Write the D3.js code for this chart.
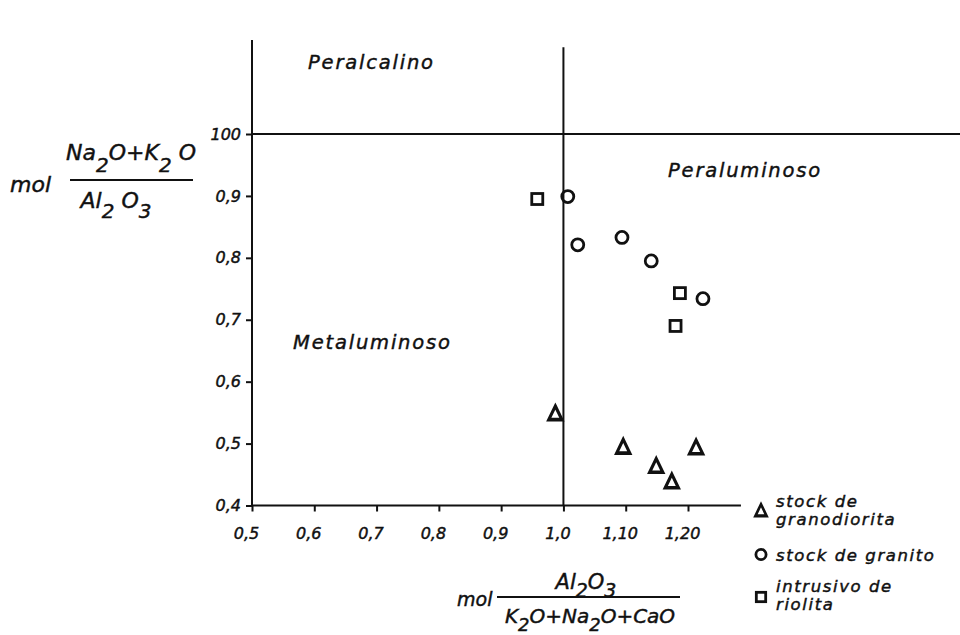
<!DOCTYPE html>
<html>
<head>
<meta charset="utf-8">
<script src="https://cdn.jsdelivr.net/npm/d3@7"></script>
<style>
  html, body { margin: 0; padding: 0; background: #fff; }
  svg text { font-family: "DejaVu Sans", "Liberation Sans", sans-serif; font-style: italic; fill: #111; stroke: #111; stroke-width: 0.45px; }
</style>
</head>
<body>
<svg id="chart" width="960" height="635"></svg>
<script>
// Shand index: A/CNK (x) vs A/NK-inverse (y) for the three intrusive units
const granodiorita = [
  [0.987, 0.546], [1.096, 0.492], [1.149, 0.461], [1.174, 0.436], [1.213, 0.491]
];
const granito = [
  [1.007, 0.899], [1.023, 0.821], [1.094, 0.833], [1.141, 0.795], [1.224, 0.734]
];
const riolita = [
  [0.958, 0.895], [1.187, 0.743], [1.180, 0.690]
];

const xTicks = [0.5, 0.6, 0.7, 0.8, 0.9, 1.0, 1.1, 1.2];
const xTickLabels = ["0,5", "0,6", "0,7", "0,8", "0,9", "1,0", "1,10", "1,20"];
const yTicks = [0.4, 0.5, 0.6, 0.7, 0.8, 0.9, 1.0];
const yTickLabels = ["0,4", "0,5", "0,6", "0,7", "0,8", "0,9", "100"];

const regions = [
  { name: "Peralcalino", x: 0.59, y: 1.105 },
  { name: "Peraluminoso", x: 1.168, y: 0.93 },
  { name: "Metaluminoso", x: 0.566, y: 0.653 }
];

const legendItems = [
  { shape: "triangle", lines: ["stock de", "granodiorita"] },
  { shape: "circle", lines: ["stock de granito"] },
  { shape: "square", lines: ["intrusivo de", "riolita"] }
];

const svg = d3.select("#chart");
const ink = "#111";

const x = d3.scaleLinear().domain([0.5, 1.2]).range([252, 688]);
const y = d3.scaleLinear().domain([0.4, 1.0]).range([505.5, 134]);

// Axes
const xAxis = d3.axisBottom(x)
  .tickValues(xTicks)
  .tickSize(6)
  .tickFormat((d, i) => xTickLabels[i]);
const gx = svg.append("g")
  .attr("transform", `translate(0,${y(0.4)})`)
  .call(xAxis);
gx.select(".domain").remove();
gx.selectAll(".tick line").attr("stroke", ink).attr("stroke-width", 2);
gx.selectAll(".tick text")
  .attr("dy", "1.5em").attr("dx", -6)
  .style("font-size", "16px").style("font-family", "'DejaVu Sans', sans-serif")
  .style("font-style", "italic").attr("fill", ink);
gx.append("line")
  .attr("x1", x(0.5)).attr("x2", x(1.285))
  .attr("y1", 0).attr("y2", 0)
  .attr("stroke", ink).attr("stroke-width", 2);

const yAxis = d3.axisLeft(y)
  .tickValues(yTicks)
  .tickSize(6)
  .tickFormat((d, i) => yTickLabels[i]);
const gy = svg.append("g")
  .attr("transform", `translate(${x(0.5)},0)`)
  .call(yAxis);
gy.select(".domain").remove();
gy.selectAll(".tick line").attr("stroke", ink).attr("stroke-width", 2);
gy.selectAll(".tick text")
  .attr("dx", -2)
  .style("font-size", "16px").style("font-family", "'DejaVu Sans', sans-serif")
  .style("font-style", "italic").attr("fill", ink);
gy.append("line")
  .attr("x1", 0).attr("x2", 0)
  .attr("y1", y(1.152)).attr("y2", y(0.4))
  .attr("stroke", ink).attr("stroke-width", 2);

// Field boundaries at index = 1
svg.append("line")
  .attr("x1", x(0.5)).attr("x2", 960)
  .attr("y1", y(1.0)).attr("y2", y(1.0))
  .attr("stroke", ink).attr("stroke-width", 2);
svg.append("line")
  .attr("x1", x(1.0)).attr("x2", x(1.0))
  .attr("y1", y(1.14)).attr("y2", y(0.4))
  .attr("stroke", ink).attr("stroke-width", 2);

// Field names
svg.selectAll("text.region")
  .data(regions)
  .join("text")
  .attr("class", "region")
  .attr("x", d => x(d.x))
  .attr("y", d => y(d.y))
  .style("font-size", "19.5px")
  .style("letter-spacing", "1.8px")
  .text(d => d.name);

// Markers
const triPath = d3.symbol().type(d3.symbolTriangle).size(75);
function drawShape(g, shape, cx, cy, scale) {
  const s = scale || 1;
  if (shape === "circle") {
    g.append("circle").attr("cx", cx).attr("cy", cy).attr("r", 6 * s)
      .attr("fill", "none").attr("stroke", ink).attr("stroke-width", 2.8);
  } else if (shape === "square") {
    g.append("rect").attr("x", cx - 5.5 * s).attr("y", cy - 5.5 * s)
      .attr("width", 11 * s).attr("height", 11 * s)
      .attr("fill", "none").attr("stroke", ink).attr("stroke-width", 2.8);
  } else {
    g.append("path").attr("d", triPath())
      .attr("transform", `translate(${cx},${cy}) scale(${s},${1.2 * s})`)
      .attr("fill", "none").attr("stroke", ink).attr("stroke-width", 3)
      .attr("stroke-linejoin", "miter");
  }
}

const pts = svg.append("g");
granodiorita.forEach(d => drawShape(pts, "triangle", x(d[0]), y(d[1])));
granito.forEach(d => drawShape(pts, "circle", x(d[0]), y(d[1])));
riolita.forEach(d => drawShape(pts, "square", x(d[0]), y(d[1])));

// Y-axis title: mol (Na2O+K2O)/Al2O3
const yt = svg.append("g");
yt.append("text").attr("x", 10).attr("y", 192).style("font-size", "22px").text("mol");
const yNum = yt.append("text").attr("x", 131).attr("y", 160)
  .attr("text-anchor", "middle").style("font-size", "22px");
yNum.append("tspan").text("Na");
yNum.append("tspan").attr("dy", 12).style("font-size", "20px").text("2");
yNum.append("tspan").attr("dy", -12).text("O+K");
yNum.append("tspan").attr("dy", 12).style("font-size", "20px").text("2");
yNum.append("tspan").attr("dy", -12).text(" O");
yt.append("line").attr("x1", 70).attr("x2", 193).attr("y1", 180).attr("y2", 180)
  .attr("stroke", ink).attr("stroke-width", 2);
const yDen = yt.append("text").attr("x", 116).attr("y", 208)
  .attr("text-anchor", "middle").style("font-size", "22px");
yDen.append("tspan").text("Al");
yDen.append("tspan").attr("dy", 10).style("font-size", "20px").text("2");
yDen.append("tspan").attr("dy", -10).text(" O");
yDen.append("tspan").attr("dy", 10).style("font-size", "20px").text("3");

// X-axis title: mol Al2O3/(K2O+Na2O+CaO)
const xt = svg.append("g");
xt.append("text").attr("x", 457).attr("y", 606).style("font-size", "19px").text("mol");
const xNum = xt.append("text").attr("x", 586).attr("y", 589)
  .attr("text-anchor", "middle").style("font-size", "21px");
xNum.append("tspan").text("Al");
xNum.append("tspan").attr("dy", 8).style("font-size", "19px").text("2");
xNum.append("tspan").attr("dy", -8).text("O");
xNum.append("tspan").attr("dy", 8).style("font-size", "19px").text("3");
xt.append("line").attr("x1", 497).attr("x2", 680).attr("y1", 597).attr("y2", 597)
  .attr("stroke", ink).attr("stroke-width", 2);
const xDen = xt.append("text").attr("x", 590).attr("y", 623)
  .attr("text-anchor", "middle").style("font-size", "20px");
xDen.append("tspan").text("K");
xDen.append("tspan").attr("dy", 8).style("font-size", "18px").text("2");
xDen.append("tspan").attr("dy", -8).text("O+Na");
xDen.append("tspan").attr("dy", 8).style("font-size", "18px").text("2");
xDen.append("tspan").attr("dy", -8).text("O+CaO");

// Legend: one text element per line
const legY = d3.scalePoint().domain(legendItems.map((d, i) => i)).range([512, 597]);
const leg = svg.append("g");
legendItems.forEach((d, i) => {
  const cy = legY(i);
  drawShape(leg, d.shape, 761, cy, 0.85);
  const top = d.lines.length > 1 ? cy - 5 : cy + 6;
  d.lines.forEach((line, j) => {
    leg.append("text")
      .attr("x", 776)
      .attr("y", top + j * 18)
      .style("font-size", "16.5px")
      .style("letter-spacing", "1.6px")
      .text(line);
  });
});
</script>
</body>
</html>
